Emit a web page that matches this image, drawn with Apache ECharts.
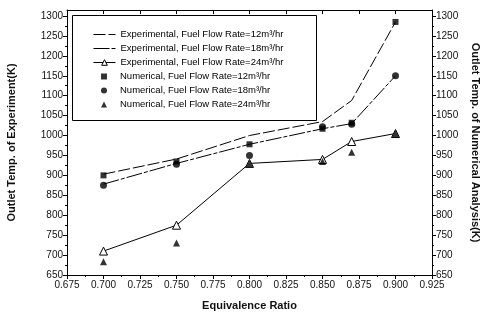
<!DOCTYPE html>
<html>
<head>
<meta charset="utf-8">
<script src="https://cdn.jsdelivr.net/npm/echarts@6/dist/echarts.min.js"></script>
<style>
  html, body { margin: 0; padding: 0; background: #fff; }
  #chart { width: 482px; height: 323px; }
</style>
</head>
<body>
<div id="chart"></div>
<script>
// Equivalence ratios at which temperatures were recorded
const ratios = [0.700, 0.750, 0.800, 0.850, 0.870, 0.900];

// Measured outlet temperatures (K)
const exp12 = [903, 941, 1000, 1035, 1088, 1285];
const exp18 = [878, 930, 978, 1017, 1030, 1150];
const exp24 = [710, 775, 930, 940, 985, 1005];

// Simulated outlet temperatures (K)
const num12 = [900, 935, 978, 1017, 1032, 1285];
const num18 = [875, 928, 950, 1022, 1028, 1150];
const num24 = [683, 730, 930, 935, 958, 1005];

// Axis tick values
const tempTicks = [650, 700, 750, 800, 850, 900, 950, 1000, 1050, 1100, 1150, 1200, 1250, 1300];

const names = [
  'Experimental, Fuel Flow Rate=12m\u00b3/hr',
  'Experimental, Fuel Flow Rate=18m\u00b3/hr',
  'Experimental, Fuel Flow Rate=24m\u00b3/hr',
  'Numerical, Fuel Flow Rate=12m\u00b3/hr',
  'Numerical, Fuel Flow Rate=18m\u00b3/hr',
  'Numerical, Fuel Flow Rate=24m\u00b3/hr'
];

const pair = (ys) => ratios.map((x, i) => [x, ys[i]]);
const font = 'Liberation Sans, Arial, sans-serif';
const legendText = { color: '#000', fontFamily: font, fontSize: 9.5, lineHeight: 11 };

const yAxisBase = {
  type: 'value',
  min: 650,
  max: 1315,
  interval: 50,
  splitLine: { show: false },
  axisLine: { show: true, lineStyle: { color: '#000', width: 1 } },
  axisTick: { show: true, customValues: tempTicks, length: 4, lineStyle: { color: '#000' } },
  minorTick: { show: true, splitNumber: 2, length: 2, lineStyle: { color: '#000' } },
  axisLabel: {
    customValues: tempTicks, color: '#111', fontFamily: font, fontSize: 10, margin: 4,
    formatter: (v) => String(v)
  },
  nameLocation: 'middle',
  nameTextStyle: { color: '#111', fontFamily: font, fontSize: 11, fontWeight: 'bold' }
};

const chart = echarts.init(document.getElementById('chart'), null, { renderer: 'canvas' });

chart.setOption({
  backgroundColor: '#fff',
  animation: false,
  grid: { left: 67, right: 50, top: 10, bottom: 48, containLabel: false, outerBoundsMode: 'none' },
  graphic: [
    {
      type: 'rect',
      shape: { x: 72.5, y: 15.5, width: 244, height: 105 },
      style: { fill: 'none', stroke: '#000', lineWidth: 1 },
      z: 5
    }
  ],
  legend: [
    {
      orient: 'vertical',
      left: 93,
      top: 29,
      padding: 0,
      itemGap: 3,
      itemWidth: 22,
      itemHeight: 7,
      textStyle: legendText,
      data: [
        { name: names[0], itemStyle: { opacity: 0 }, lineStyle: { width: 1 } },
        { name: names[1], itemStyle: { opacity: 0 }, lineStyle: { width: 1 } },
        {
          name: names[2],
          lineStyle: { width: 1 },
          itemStyle: { color: '#fff', borderColor: '#000', borderWidth: 1 }
        }
      ]
    },
    {
      orient: 'vertical',
      left: 101,
      top: 71,
      padding: 0,
      itemGap: 3,
      itemWidth: 6,
      itemHeight: 6,
      textStyle: Object.assign({}, legendText, { padding: [0, 0, 0, 8] }),
      data: [names[3], names[4], names[5]]
    }
  ],
  xAxis: [
    {
      type: 'value',
      min: 0.675,
      max: 0.925,
      interval: 0.025,
      name: 'Equivalence Ratio',
      nameLocation: 'middle',
      nameGap: 25,
      nameTextStyle: { color: '#111', fontFamily: font, fontSize: 11, fontWeight: 'bold' },
      splitLine: { show: false },
      axisLine: { show: true, onZero: false, lineStyle: { color: '#000' } },
      axisTick: { show: true, length: 4, lineStyle: { color: '#000' } },
      minorTick: { show: true, splitNumber: 2, length: 2, lineStyle: { color: '#000' } },
      axisLabel: {
        color: '#111', fontFamily: font, fontSize: 10, margin: 5,
        formatter: (v) => v.toFixed(3)
      }
    },
    {
      type: 'value',
      position: 'top',
      min: 0.675,
      max: 0.925,
      interval: 0.025,
      splitLine: { show: false },
      axisLine: { show: true, onZero: false, lineStyle: { color: '#000' } },
      axisTick: { show: true, inside: true, length: 4, lineStyle: { color: '#000' } },
      axisLabel: { show: false }
    }
  ],
  yAxis: [
    Object.assign({}, yAxisBase, {
      position: 'left',
      name: 'Outlet Temp. of Experiment(K)',
      nameGap: 50
    }),
    Object.assign({}, yAxisBase, {
      position: 'right',
      name: 'Outlet Temp. of Numerical Analysis(K)',
      nameGap: 36,
      nameRotate: -90
    })
  ],
  series: [
    {
      name: names[0], type: 'line', data: pair(exp12),
      symbol: 'none', z: 2,
      lineStyle: { color: '#000', width: 1, type: [12, 3] },
      itemStyle: { color: '#000' }
    },
    {
      name: names[1], type: 'line', data: pair(exp18),
      symbol: 'none', z: 2,
      lineStyle: { color: '#000', width: 1, type: [16, 2, 4, 2] },
      itemStyle: { color: '#000' }
    },
    {
      name: names[2], type: 'line', data: pair(exp24),
      symbol: 'triangle', symbolSize: 8, z: 3,
      lineStyle: { color: '#000', width: 1 },
      itemStyle: { color: '#fff', borderColor: '#000', borderWidth: 1 }
    },
    {
      name: names[3], type: 'scatter', yAxisIndex: 1, data: pair(num12),
      symbol: 'rect', symbolSize: 6, z: 4,
      itemStyle: { color: '#000' }
    },
    {
      name: names[4], type: 'scatter', yAxisIndex: 1, data: pair(num18),
      symbol: 'circle', symbolSize: 7, z: 4,
      itemStyle: { color: '#000' }
    },
    {
      name: names[5], type: 'scatter', yAxisIndex: 1, data: pair(num24),
      symbol: 'triangle', symbolSize: 7, z: 4,
      itemStyle: { color: '#000' }
    }
  ]
});
</script>
</body>
</html>
